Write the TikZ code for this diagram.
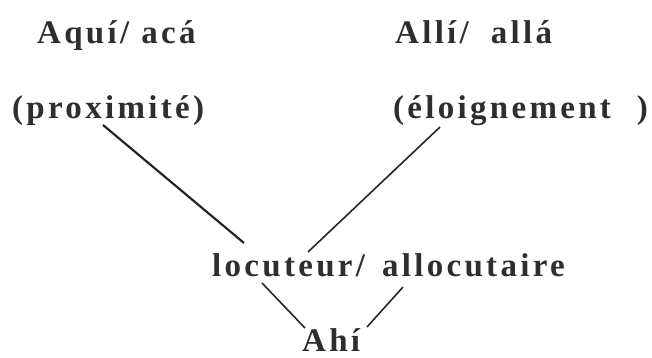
\documentclass[tikz,border=0pt]{standalone}
\usepackage{fontspec}
\setmainfont{Liberation Serif}[LetterSpace=10]
\begin{document}
\begin{tikzpicture}[x=1pt,y=-1pt,
  lbl/.style={anchor=base west,inner sep=0pt,font=\fontsize{33}{38}\selectfont\bfseries,text=black!82},
  conn/.style={line width=1.6pt,black!85}]
\useasboundingbox (0,0) rectangle (652,357);
\node[lbl] (aqui) at (37,43) {Aquí/\hspace{12pt}acá};
\node[lbl] (prox) at (12,118) {(proximité)};
\node[lbl] (alli) at (395,43) {Allí/\hspace{22pt}allá};
\node[lbl] (elo) at (393,118) {(éloignement\hspace{26pt})};
\node[lbl] (loc) at (212,276) {locuteur/\hspace{17pt}allocutaire};
\node[lbl] (ahi) at (302,351) {Ahí};
\coordinate (p1) at (103,125);
\coordinate (l1) at (244,243);
\coordinate (e1) at (440,127);
\coordinate (l2) at (308,252);
\coordinate (l3) at (262,283);
\coordinate (a1) at (305,328);
\coordinate (l4) at (403,287);
\coordinate (a2) at (367,327);
\draw[conn,line width=2.2pt] (p1) -- (l1);
\draw[conn] (e1) -- (l2);
\draw[conn] (l3) -- (a1);
\draw[conn] (l4) -- (a2);
\end{tikzpicture}
\end{document}
